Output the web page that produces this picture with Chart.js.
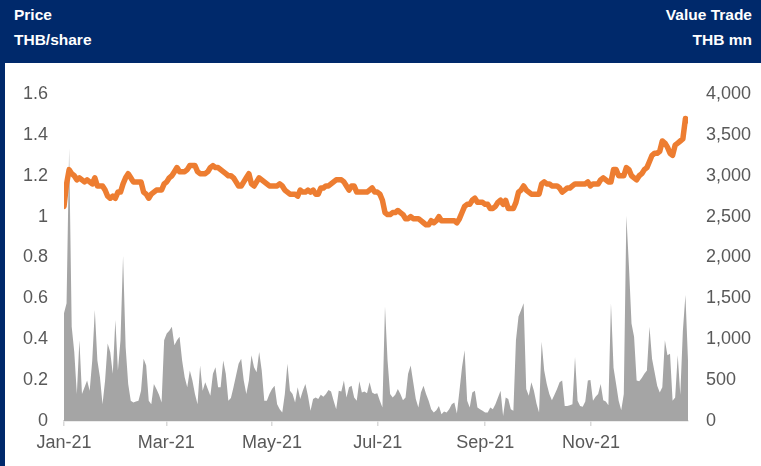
<!DOCTYPE html>
<html lang="en">
<head>
  <meta charset="UTF-8" />
  <title>Price and Value Trade</title>
  <script src="https://cdn.jsdelivr.net/npm/chart.js"></script>
  <style>
    html, body { margin: 0; padding: 0; }
    body {
      width: 761px; height: 466px; overflow: hidden;
      background: #00296b; position: relative;
      font-family: 'Liberation Sans', Arial, sans-serif;
    }
    .hdr { position: absolute; color: #fff; font-weight: bold; font-size: 15.5px; line-height: 18px; }
    .hdr.left { left: 14px; text-align: left; }
    .hdr.right { right: 9px; text-align: right; }
    .panel { position: absolute; left: 5px; top: 63px; width: 756px; height: 403px; background: #fff; }
  </style>
</head>
<body>
  <div class="hdr left" style="top:6px">Price</div>
  <div class="hdr left" style="top:31px">THB/share</div>
  <div class="hdr right" style="top:6px">Value Trade</div>
  <div class="hdr right" style="top:31px">THB mn</div>

  <div class="panel">
    <canvas id="priceChart" width="756" height="403"></canvas>
  </div>

  <script>
    // axis span: first and last trading day of 2021
    const firstDay = '2021-01-04';
    const lastDay = '2021-12-30';
    const tickDates = ['2021-01-04', '2021-03-04', '2021-05-04', '2021-07-04', '2021-09-04', '2021-11-04'];
    const tickLabels = ['Jan-21', 'Mar-21', 'May-21', 'Jul-21', 'Sep-21', 'Nov-21'];

    // closing price, THB/share (one per trading day)
    const price = [
      1.05, 1.16, 1.23, 1.21, 1.20, 1.18, 1.19, 1.18, 1.17, 1.18,
      1.17, 1.16, 1.19, 1.15, 1.15, 1.15, 1.13, 1.10, 1.09, 1.10,
      1.09, 1.12, 1.12, 1.16, 1.19, 1.21, 1.19, 1.17, 1.17, 1.17,
      1.17, 1.12, 1.11, 1.09, 1.11, 1.12, 1.13, 1.13, 1.13, 1.16,
      1.17, 1.19, 1.20, 1.22, 1.24, 1.22, 1.22, 1.22, 1.23, 1.25,
      1.25, 1.25, 1.22, 1.21, 1.21, 1.21, 1.22, 1.24, 1.25, 1.24,
      1.24, 1.23, 1.22, 1.21, 1.20, 1.20, 1.19, 1.17, 1.15, 1.15,
      1.17, 1.19, 1.21, 1.16, 1.15, 1.17, 1.19, 1.18, 1.17, 1.16,
      1.15, 1.15, 1.15, 1.15, 1.16, 1.15, 1.13, 1.12, 1.11, 1.11,
      1.11, 1.10, 1.13, 1.12, 1.12, 1.13, 1.12, 1.13, 1.11, 1.11,
      1.14, 1.14, 1.15, 1.15, 1.16, 1.17, 1.18, 1.18, 1.18, 1.17,
      1.15, 1.13, 1.15, 1.15, 1.12, 1.12, 1.12, 1.12, 1.12, 1.13,
      1.14, 1.12, 1.12, 1.11, 1.08, 1.02, 1.01, 1.01, 1.02, 1.02,
      1.03, 1.02, 1.01, 0.99, 0.99, 1.00, 0.99, 0.99, 0.99, 0.98,
      0.97, 0.96, 0.96, 0.98, 0.97, 0.98, 1.00, 0.98, 0.98, 0.98,
      0.98, 0.98, 0.98, 0.97, 0.99, 1.02, 1.05, 1.06, 1.06, 1.08,
      1.09, 1.07, 1.07, 1.07, 1.06, 1.06, 1.04, 1.04, 1.05, 1.07,
      1.08, 1.06, 1.08, 1.04, 1.04, 1.04, 1.07, 1.12, 1.13, 1.15,
      1.13, 1.12, 1.11, 1.11, 1.11, 1.11, 1.16, 1.17, 1.16, 1.16,
      1.15, 1.15, 1.15, 1.14, 1.12, 1.13, 1.14, 1.14, 1.15, 1.16,
      1.16, 1.16, 1.16, 1.16, 1.17, 1.15, 1.16, 1.16, 1.16, 1.18,
      1.19, 1.18, 1.17, 1.17, 1.23, 1.23, 1.20, 1.20, 1.20, 1.24,
      1.23, 1.20, 1.19, 1.18, 1.20, 1.21, 1.23, 1.24, 1.27, 1.30,
      1.31, 1.31, 1.32, 1.37, 1.36, 1.34, 1.31, 1.30, 1.35, 1.36,
      1.37, 1.38, 1.48, 1.47
    ];

    // value trade, THB mn
    const valueTrade = [
      1318, 1441, 3336, 1153, 844, 329, 988, 329, 412, 494,
      371, 741, 1359, 741, 535, 206, 494, 947, 844, 577,
      1235, 618, 988, 2018, 906, 453, 247, 226, 239, 247,
      371, 762, 679, 247, 206, 453, 391, 321, 226, 988,
      1071, 1104, 1153, 927, 988, 1030, 741, 535, 412, 618,
      494, 329, 206, 679, 371, 474, 391, 309, 577, 659,
      412, 412, 741, 577, 247, 280, 412, 556, 700, 762,
      494, 329, 494, 803, 659, 597, 844, 618, 247, 247,
      329, 391, 432, 206, 144, 103, 329, 700, 371, 329,
      226, 412, 268, 371, 453, 309, 124, 268, 288, 268,
      321, 297, 329, 379, 362, 247, 144, 371, 362, 494,
      288, 412, 432, 288, 247, 486, 350, 362, 338, 474,
      350, 329, 338, 247, 165, 1400, 741, 329, 288, 321,
      391, 329, 255, 288, 577, 679, 474, 268, 165, 350,
      432, 329, 247, 144, 103, 132, 185, 82, 115, 103,
      144, 206, 226, 91, 371, 659, 865, 247, 165, 350,
      371, 165, 144, 124, 103, 103, 165, 144, 206, 288,
      371, 62, 288, 268, 144, 124, 988, 1277, 1359, 1441,
      391, 309, 474, 371, 214, 103, 968, 618, 453, 329,
      255, 321, 391, 474, 494, 185, 185, 194, 206, 782,
      247, 185, 173, 239, 494, 502, 247, 297, 329, 453,
      255, 239, 194, 1441, 650, 453, 247, 132, 329, 2512,
      1894, 1194, 1030, 494, 486, 527, 577, 618, 1153, 762,
      597, 432, 350, 412, 988, 803, 824, 247, 288, 803,
      321, 1100, 1540, 741
    ];

    const DAY = 86400000;
    const t0 = new Date(firstDay).getTime();
    const span = (new Date(lastDay).getTime() - t0) / DAY;
    const tickDays = tickDates.map(d => (new Date(d).getTime() - t0) / DAY);

    // trading days spread over the calendar span
    const n = price.length;
    const xs = price.map((_, i) => i * span / (n - 1));
    const pricePts = price.map((v, i) => ({ x: xs[i], y: v }));
    const valuePts = valueTrade.map((v, i) => ({ x: xs[i], y: v }));

    Chart.defaults.font.family = "'Liberation Sans', Arial, sans-serif";
    Chart.defaults.font.size = 18;
    Chart.defaults.color = '#595959';

    const ctx = document.getElementById('priceChart').getContext('2d');

    new Chart(ctx, {
      type: 'line',
      data: {
        datasets: [
          {
            label: 'Price',
            data: pricePts,
            yAxisID: 'y',
            borderColor: '#ed7d31',
            borderWidth: 5.5,
            borderCapStyle: 'round',
            borderJoinStyle: 'round',
            pointRadius: 0,
            tension: 0,
            fill: false
          },
          {
            label: 'Value Trade',
            data: valuePts,
            yAxisID: 'y1',
            borderWidth: 0,
            borderColor: 'rgba(0,0,0,0)',
            backgroundColor: '#a5a5a5',
            pointRadius: 0,
            tension: 0,
            fill: 'origin'
          }
        ]
      },
      options: {
        responsive: false,
        animation: false,
        layout: { padding: { top: 31, left: 0, right: 0, bottom: 0 } },
        plugins: { legend: { display: false }, tooltip: { enabled: false } },
        scales: {
          x: {
            type: 'linear',
            min: 0,
            max: span,
            afterBuildTicks: s => { s.ticks = tickDays.map(v => ({ value: v })); },
            afterFit: s => { s.height = 45; },
            ticks: {
              padding: 6,
              maxRotation: 0,
              autoSkip: false,
              callback: (v, i) => tickLabels[i]
            },
            grid: { drawOnChartArea: false, drawTicks: true, tickLength: 5, color: '#d9d9d9', lineWidth: 1.5 },
            border: { display: true, color: '#d9d9d9', width: 1.5 }
          },
          y: {
            position: 'left',
            min: 0,
            max: 1.6,
            afterFit: s => { s.width = 59; },
            ticks: {
              stepSize: 0.2,
              padding: 8,
              callback: v => String(Math.round(v * 10) / 10)
            },
            grid: { display: false },
            border: { display: false }
          },
          y1: {
            position: 'right',
            min: 0,
            max: 4000,
            afterFit: s => { s.width = 73; },
            ticks: {
              stepSize: 500,
              padding: 10,
              callback: v => v.toLocaleString('en-US')
            },
            grid: { display: false },
            border: { display: false }
          }
        }
      }
    });
  </script>
</body>
</html>
